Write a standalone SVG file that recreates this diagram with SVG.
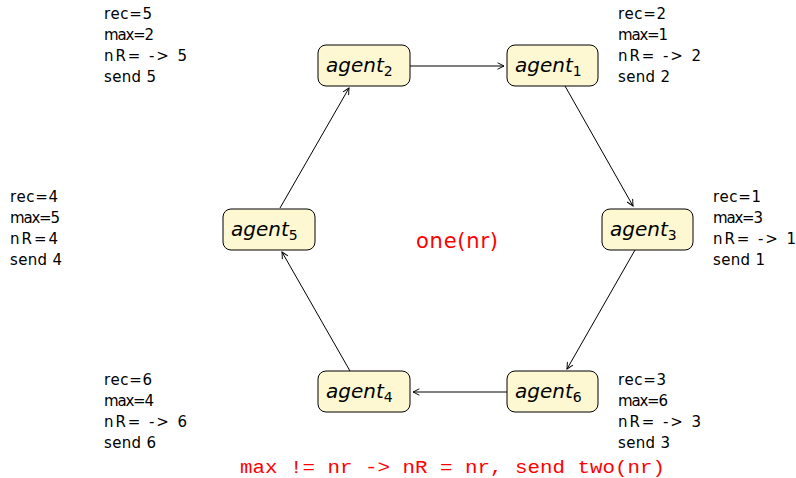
<svg xmlns="http://www.w3.org/2000/svg" width="796" height="478" viewBox="0 0 796 478">
  <style>
    .box { fill: #fdf8d2; stroke: #000; stroke-width: 1; }
    .name { font-family: "DejaVu Sans", "Liberation Sans", sans-serif; font-style: italic; font-size: 20px; fill: #000; }
    .sub { font-style: normal; font-size: 14px; }
    .info { font-family: "DejaVu Sans", "Liberation Sans", sans-serif; font-size: 15px; fill: #000; }
    .edge { stroke: #000; stroke-width: 1; fill: none; marker-end: url(#tip); }
    .red { fill: #ff0000; }
  </style>
  <defs>
    <marker id="tip" viewBox="0 0 10 10" refX="9" refY="5" markerWidth="8" markerHeight="8" markerUnits="userSpaceOnUse" orient="auto">
      <path d="M1,1 L9,5 L1,9" fill="none" stroke="#000" stroke-width="1.2"/>
    </marker>
  </defs>

  <g id="connectors">
    <line class="edge" x1="410" y1="66" x2="504" y2="66"/>
    <line class="edge" x1="565" y1="86" x2="633" y2="206"/>
    <line class="edge" x1="635" y1="250" x2="567" y2="369"/>
    <line class="edge" x1="507" y1="392" x2="413" y2="392"/>
    <line class="edge" x1="350" y1="371" x2="282" y2="252"/>
    <line class="edge" x1="280" y1="208" x2="349" y2="88"/>
  </g>

  <g id="agent2">
    <rect class="box" x="318" y="45" width="92" height="41" rx="8"/>
    <text class="name" x="326" y="72">agent<tspan class="sub" dy="4">2</tspan></text>
  </g>
  <g id="agent1">
    <rect class="box" x="507" y="45" width="91" height="41" rx="8"/>
    <text class="name" x="515" y="72">agent<tspan class="sub" dy="4">1</tspan></text>
  </g>
  <g id="agent3">
    <rect class="box" x="602" y="209" width="91" height="41" rx="8"/>
    <text class="name" x="610" y="236">agent<tspan class="sub" dy="4">3</tspan></text>
  </g>
  <g id="agent5">
    <rect class="box" x="223" y="209" width="92" height="41" rx="8"/>
    <text class="name" x="231" y="236">agent<tspan class="sub" dy="4">5</tspan></text>
  </g>
  <g id="agent4">
    <rect class="box" x="318" y="371" width="92" height="41" rx="8"/>
    <text class="name" x="326" y="398">agent<tspan class="sub" dy="4">4</tspan></text>
  </g>
  <g id="agent6">
    <rect class="box" x="507" y="371" width="91" height="41" rx="8"/>
    <text class="name" x="515" y="398">agent<tspan class="sub" dy="4">6</tspan></text>
  </g>

  <!-- per-agent state notes -->
  <g id="note2" class="info">
    <text x="104" y="19" textLength="48">rec=5</text>
    <text x="104" y="40" textLength="50">max=2</text>
    <text x="104" y="61" textLength="83">nR= -&gt; 5</text>
    <text x="104" y="82" textLength="52">send 5</text>
  </g>
  <g id="note1" class="info">
    <text x="618" y="19" textLength="48">rec=2</text>
    <text x="618" y="40" textLength="50">max=1</text>
    <text x="618" y="61" textLength="83">nR= -&gt; 2</text>
    <text x="618" y="82" textLength="52">send 2</text>
  </g>
  <g id="note5" class="info">
    <text x="10" y="202" textLength="48">rec=4</text>
    <text x="10" y="223" textLength="50">max=5</text>
    <text x="10" y="244" textLength="48">nR=4</text>
    <text x="10" y="265" textLength="52">send 4</text>
  </g>
  <g id="note3" class="info">
    <text x="713" y="202" textLength="48">rec=1</text>
    <text x="713" y="223" textLength="50">max=3</text>
    <text x="713" y="244" textLength="83">nR= -&gt; 1</text>
    <text x="713" y="265" textLength="52">send 1</text>
  </g>
  <g id="note4" class="info">
    <text x="104" y="385" textLength="48">rec=6</text>
    <text x="104" y="406" textLength="50">max=4</text>
    <text x="104" y="427" textLength="83">nR= -&gt; 6</text>
    <text x="104" y="448" textLength="52">send 6</text>
  </g>
  <g id="note6" class="info">
    <text x="618" y="385" textLength="48">rec=3</text>
    <text x="618" y="406" textLength="50">max=6</text>
    <text x="618" y="427" textLength="83">nR= -&gt; 3</text>
    <text x="618" y="448" textLength="52">send 3</text>
  </g>

  <text class="red" x="416" y="248" textLength="82" font-family="DejaVu Sans, Liberation Sans, sans-serif" font-size="21">one(nr)</text>
  <text class="red" x="240" y="473" textLength="425" lengthAdjust="spacingAndGlyphs" font-family="Liberation Mono, Courier New, monospace" font-size="19">max != nr -&gt; nR = nr, send two(nr)</text>
</svg>
